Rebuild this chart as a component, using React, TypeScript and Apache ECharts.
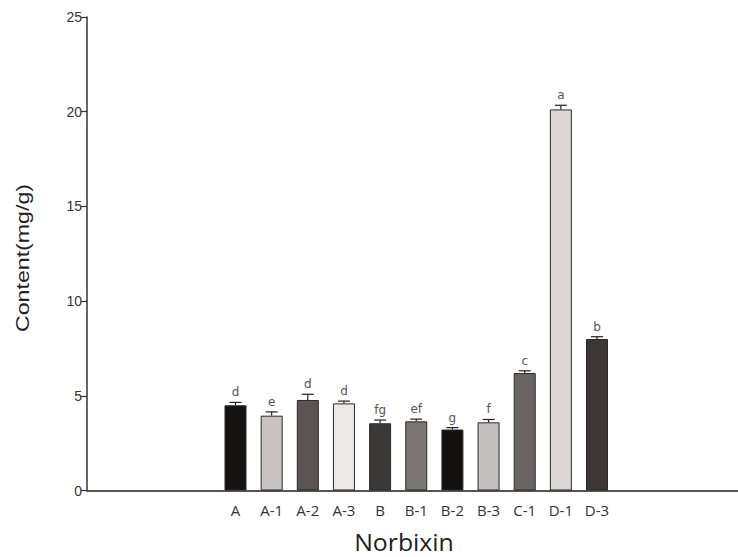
import React, { useEffect, useRef } from "react";
import * as echarts from "echarts";

const categories = ["A", "A-1", "A-2", "A-3", "B", "B-1", "B-2", "B-3", "C-1", "D-1", "D-3"];
const values = [4.5, 3.95, 4.78, 4.6, 3.55, 3.65, 3.22, 3.6, 6.2, 20.12, 8.0];
const errors = [0.15, 0.2, 0.3, 0.12, 0.17, 0.12, 0.1, 0.15, 0.12, 0.22, 0.12];
const letters = ["d", "e", "d", "d", "fg", "ef", "g", "f", "c", "a", "b"];
const colors = ["#151212", "#c9c4c2", "#5b5353", "#ebe8e6", "#3d3838", "#7b7575", "#141111", "#c3bfbe", "#6b6464", "#dcd7d5", "#3d3636"];
const yTicks = [0, 5, 10, 15, 20, 25];

export default function App() {
  const ref = useRef<HTMLDivElement>(null);
  useEffect(() => {
    if (!ref.current) return;
    const chart = echarts.init(ref.current, undefined, { renderer: "svg" });
    const idx = categories.map((_, i) => i);
    chart.setOption({
      animation: false,
      backgroundColor: "#ffffff",
      grid: { left: 87, right: 0, top: 17, bottom: 66.5 },
      xAxis: {
        type: "value",
        min: -4.108,
        max: 13.9,
        splitLine: { show: false },
        axisTick: { show: false },
        axisLine: { show: true, onZero: false, lineStyle: { color: "#555", width: 2 } },
        axisLabel: {
          customValues: idx,
          formatter: (v: number) => categories[Math.round(v)] ?? "",
          fontFamily: "Open Sans",
          fontSize: 15,
          color: "#333",
          margin: 12,
        },
      },
      yAxis: {
        type: "value",
        min: 0,
        max: 25,
        interval: 5,
        splitLine: { show: false },
        axisLine: { show: true, onZero: false, lineStyle: { color: "#333", width: 1.5 } },
        axisTick: { show: true, length: 6, lineStyle: { color: "#333", width: 1.2 } },
        axisLabel: {
          fontFamily: "Liberation Sans",
          fontSize: 14,
          color: "#333",
          margin: 5,
        },
      },
      graphic: [
        {
          type: "text",
          x: 404,
          y: 542,
          scaleX: 1.08,
          style: {
            text: "Norbixin",
            fontFamily: "Open Sans",
            fontSize: 23,
            fill: "#222",
            align: "center",
            verticalAlign: "middle",
          },
        },
        {
          type: "text",
          x: 22,
          y: 258,
          rotation: Math.PI / 2,
          scaleX: 1.22,
          style: {
            text: "Content(mg/g)",
            fontFamily: "Liberation Sans",
            fontSize: 19,
            fill: "#222",
            align: "center",
            verticalAlign: "middle",
          },
        },
      ],
      series: [
        {
          type: "bar",
          barWidth: 22,
          data: values.map((v, i) => ({
            value: [i, v],
            itemStyle: { color: colors[i], borderColor: "#2a2a2a", borderWidth: 1 },
          })),
        },
        {
          type: "custom",
          data: values.map((v, i) => [i, v, errors[i]]),
          renderItem: (params: any, api: any) => {
            const x = api.value(0);
            const y = api.value(1);
            const e = api.value(2);
            const top = api.coord([x, y]);
            const cap = api.coord([x, y + e]);
            return {
              type: "group",
              children: [
                {
                  type: "line",
                  shape: { x1: top[0], y1: top[1], x2: cap[0], y2: cap[1] },
                  style: { stroke: "#222", lineWidth: 1.2 },
                },
                {
                  type: "line",
                  shape: { x1: cap[0] - 6, y1: cap[1], x2: cap[0] + 6, y2: cap[1] },
                  style: { stroke: "#222", lineWidth: 1.2 },
                },
                {
                  type: "text",
                  x: cap[0],
                  y: cap[1] - 4,
                  style: {
                    text: letters[params.dataIndex],
                    fontFamily: "DejaVu Sans",
                    fontSize: 12,
                    fill: "#555",
                    align: "center",
                    verticalAlign: "bottom",
                  },
                },
              ],
            };
          },
        },
      ],
    });
    return () => chart.dispose();
  }, []);
  return (
    <div
      ref={ref}
      style={{ position: "fixed", left: 0, top: 0, width: 738, height: 557 }}
    />
  );
}
